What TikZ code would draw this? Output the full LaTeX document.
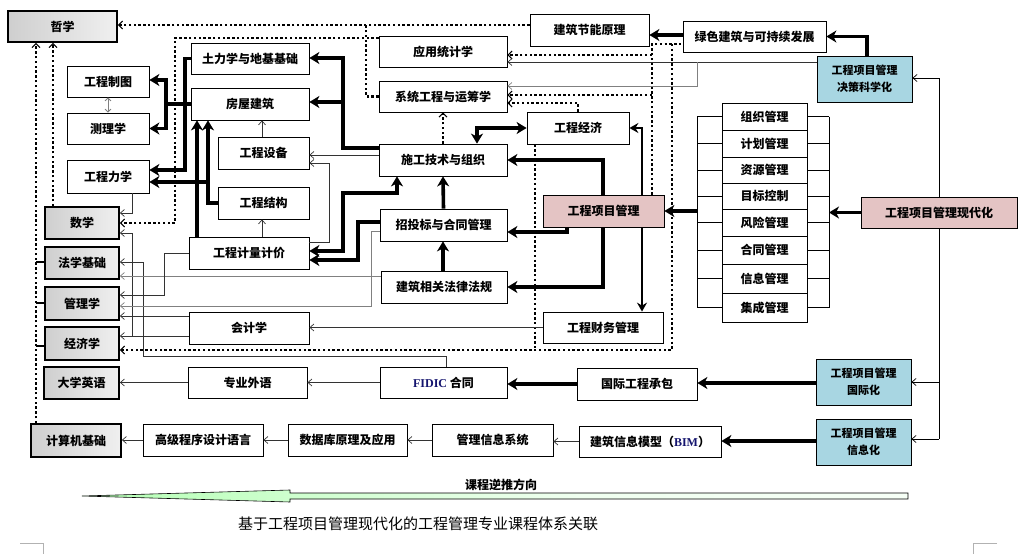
\documentclass[tikz,border=0pt]{standalone}
\usepackage{fontspec}
\setmainfont{Noto Sans CJK SC}
\newfontfamily\lserif{Liberation Serif}
\usetikzlibrary{arrows.meta}
\definecolor{pinkbg}{RGB}{228,196,196}
\definecolor{aquabg}{RGB}{168,214,226}
\definecolor{navy}{RGB}{20,20,110}
\pgfdeclarehorizontalshading{dirshade}{100bp}{color(0bp)=(black); color(22bp)=(green!45); color(24bp)=(green!30); color(55bp)=(green!6); color(100bp)=(white)}
\tikzset{
  box/.style={draw, line width=0.8pt, fill=white, inner sep=0pt, font=\bfseries\fontsize{12}{14}\selectfont},
  basebox/.style={box, line width=1.8pt, left color=gray!38, right color=gray!12},
  pinkbox/.style={box, fill=pinkbg},
  aquabox/.style={box, line width=1pt, fill=aquabg, align=center, font=\bfseries\fontsize{11}{17}\selectfont},
  thin/.style={draw=gray!40!black, line width=0.7pt, -{Straight Barb[length=4pt,width=7pt,line width=0.7pt]}},
  fat/.style={line width=3.6pt, -{Stealth[length=10pt,width=12pt,inset=3pt]}},
  mid/.style={line width=2pt, -{Stealth[length=9pt,width=10pt,inset=3pt]}},
  dots/.style={line width=2.4pt, dash pattern=on 2.4pt off 2.4pt},
  dotarr/.style={dots, -{Straight Barb[length=4pt,width=8pt,line width=1pt]}}
}
\begin{document}
\begin{tikzpicture}[x=1pt,y=-1pt]
\useasboundingbox (0,0) rectangle (1029,554);
% base courses
\node[basebox, minimum width=109, minimum height=31] (zx) at (62.5,26.5) {哲学};
\node[basebox, minimum width=74, minimum height=32] (sx) at (82,223) {数学};
\node[basebox, minimum width=74, minimum height=32] (fx) at (82,263) {法学基础};
\node[basebox, minimum width=74, minimum height=33] (gl) at (82,303.5) {管理学};
\node[basebox, minimum width=74, minimum height=33] (jj) at (82,343.5) {经济学};
\node[basebox, minimum width=75, minimum height=32] (yy) at (81.5,383) {大学英语};
\node[basebox, minimum width=90, minimum height=33] (jsj) at (76,440.5) {计算机基础};
% left column
\node[box, minimum width=82, minimum height=31] (zt) at (108,81.5) {工程制图};
\node[box, minimum width=82, minimum height=31] (cl) at (108,128.5) {测理学};
\node[box, minimum width=82, minimum height=33] (lx) at (108,176.5) {工程力学};
% second column
\node[box, minimum width=118, minimum height=31] (tl) at (250,58.5) {土力学与地基基础};
\node[box, minimum width=118, minimum height=32] (fw) at (250,104) {房屋建筑};
\node[box, minimum width=91, minimum height=32] (sb) at (263.5,153) {工程设备};
\node[box, minimum width=91, minimum height=32] (jg) at (263.5,203) {工程结构};
\node[box, minimum width=120, minimum height=32] (jl) at (249,253) {工程计量计价};
\node[box, minimum width=120, minimum height=32] (kj) at (249,328) {会计学};
\node[box, minimum width=119, minimum height=31] (wy) at (247.5,382.5) {专业外语};
\node[box, minimum width=120, minimum height=32] (gj) at (203,440) {高级程序设计语言};
% third column
\node[box, minimum width=128, minimum height=31] (tj) at (443,51.5) {应用统计学};
\node[box, minimum width=128, minimum height=31] (xt) at (443,96.5) {系统工程与运筹学};
\node[box, minimum width=128, minimum height=32] (sg) at (443,160) {施工技术与组织};
\node[box, minimum width=127, minimum height=32] (zb) at (443.5,225) {招投标与合同管理};
\node[box, minimum width=126, minimum height=32] (fg) at (444,287) {建筑相关法律法规};
\node[box, minimum width=127, minimum height=31] (fidic) at (443.5,382.5) {{\lserif\color{navy}FIDIC} 合同};
\node[box, minimum width=119, minimum height=32] (sj) at (347.5,440) {数据库原理及应用};
\node[box, minimum width=121, minimum height=32] (mis) at (492.5,440) {管理信息系统};
% fourth column
\node[box, minimum width=119, minimum height=32] (jn) at (589.5,30) {建筑节能原理};
\node[box, minimum width=102, minimum height=32] (jjx) at (578,128) {工程经济};
\node[pinkbox, minimum width=121, minimum height=32] (xm) at (603.5,211) {工程项目管理};
\node[box, minimum width=120, minimum height=31] (cw) at (603,327.5) {工程财务管理};
\node[box, minimum width=120, minimum height=32] (gc) at (637,384) {国际工程承包};
\node[box, minimum width=142, minimum height=31] (bim) at (650,441.5) {建筑信息模型（{\lserif\color{navy}BIM}）};
% right side
\node[box, minimum width=143, minimum height=31] (lv) at (754.5,36.5) {绿色建筑与可持续发展};
\node[aquabox, minimum width=95, minimum height=46] (jc) at (864.5,79) {工程项目管理\\决策科学化};
\node[box, minimum width=85, minimum height=27] (m1) at (764.5,116.5) {组织管理};
\node[box, minimum width=85, minimum height=27] (m2) at (764.5,143.5) {计划管理};
\node[box, minimum width=85, minimum height=26] (m3) at (764.5,170) {资源管理};
\node[box, minimum width=85, minimum height=26] (m4) at (764.5,196) {目标控制};
\node[box, minimum width=85, minimum height=27] (m5) at (764.5,222.5) {风险管理};
\node[box, minimum width=85, minimum height=28] (m6) at (764.5,250) {合同管理};
\node[box, minimum width=85, minimum height=29] (m7) at (764.5,278.5) {信息管理};
\node[box, minimum width=85, minimum height=29] (m8) at (764.5,307.5) {集成管理};
\node[pinkbox, minimum width=156, minimum height=31] (xd) at (939,212.5) {工程项目管理现代化};
\node[aquabox, minimum width=95, minimum height=46] (gjh) at (863.5,382) {工程项目管理\\国际化};
\node[aquabox, minimum width=95, minimum height=46] (xxh) at (863.5,442) {工程项目管理\\信息化};
% bracket round the management list
\draw[line width=0.7pt] (m1.west -| 697,0) -- (m8.west -| 697,0);
\draw[line width=0.7pt] (m1.east -| 829,0) -- (m8.east -| 829,0);
\draw[line width=0.7pt] (m1.west) -- ++(-25,0) (m2.west) -- ++(-25,0) (m3.west) -- ++(-25,0) (m4.west) -- ++(-25,0)
  (m5.west) -- ++(-25,0) (m6.west) -- ++(-25,0) (m7.west) -- ++(-25,0) (m8.west) -- ++(-25,0);
\draw[line width=0.7pt] (m1.east) -- ++(22,0) (m2.east) -- ++(22,0) (m3.east) -- ++(22,0) (m4.east) -- ++(22,0)
  (m5.east) -- ++(22,0) (m6.east) -- ++(22,0) (m7.east) -- ++(22,0) (m8.east) -- ++(22,0);
% dotted links
\draw[dotarr] (jn.west |- 0,25) -- (zx.east |- 0,25);
\draw[dots] (xt.west) -| (366,25);
\draw[dotarr] (tj.west |- 0,38) -- (175,38) -- (175,223) -- (sx.east |- 0,223);
\draw[dotarr] (jjx.north) |- ([yshift=-6.5pt]xt.east);
\draw[dotarr] (sg.north) -- (xt.south);
\draw[dots] (xm.north -| 652,0) -- (652,44) -- (lv.west |- 0,44);
\draw[dotarr] (652,55) -- (tj.east |- 0,55);
\draw[dotarr] (652,95) -- (xt.east |- 0,95);
\draw[dotarr] (672,44) -- (672,350) -- (jj.east |- 0,350);
\draw[dots] (jjx.south -| 535,0) -- (535,350);
\draw[dotarr] (sx.north -| 53,0) -- (zx.south -| 53,0);
\draw[dotarr] (jsj.north -| 36,0) -- (zx.south -| 36,0);
\draw[line width=2.6pt] (fx.west |- 0,262) -- (36,262) (gl.west |- 0,303) -- (36,303) (jj.west |- 0,346) -- (36,346);
% thin links
\draw[thin] (lx.south -| 132,0) |- (sx.east |- 0,213);
\draw[thin] (132,336) |- (sx.east |- 0,233);
\draw[thin] (kj.west |- 0,336) -- (jj.east |- 0,336);
\draw[thin] (kj.west |- 0,316) -- (gl.east |- 0,316);
\draw[thin] (fidic.north -| 446,0) |- (143,356) |- (fx.east |- 0,262);
\draw[thin, draw=gray] (fg.west |- 0,276) -- (fx.east |- 0,276);
\draw[thin] (jl.west) -| (164,295) -- (gl.east |- 0,295);
\draw[thin, draw=gray] (zb.west |- 0,231) -| (371,306) -- (gl.east |- 0,306);
\draw[thin] (cw.west) -- (kj.east |- cw.west);
\draw[thin] (sg.west |- 0,155) -- (sb.east |- 0,155);
\draw[thin] (jl.east |- 0,242) -| (329,163) -- (sb.east |- 0,163);
\draw[thin] (jl.north -| 262,0) -- (jg.south -| 262,0);
\draw[thin] (sb.north -| 262,0) -- (fw.south -| 262,0);
\draw[thin, draw=gray, {Straight Barb[length=3pt,width=6pt,line width=0.8pt]}-{Straight Barb[length=3pt,width=6pt,line width=0.8pt]}] (zt.south) -- (cl.north);
\draw[thin] (wy.west) -- (yy.east |- wy.west);
\draw[thin] (fidic.west) -- (wy.east);
\draw[thin] (gj.west) -- (jsj.east |- gj.west);
\draw[thin] (sj.west) -- (gj.east);
\draw[thin] (mis.west) -- (sj.east);
\draw[thin] (bim.west) -- (mis.east |- bim.west);
\draw[thin] (jc.west |- 0,62) -- (tj.east |- 0,62);
\draw[thin, draw=gray] (697,62) |- (xt.east |- 0,86);
\draw[thin, draw=black] (xd.north -| 939,0) |- (jc.east |- 0,78);
\draw[line width=0.7pt] (xd.south -| 939,0) -- (939,439);
\draw[thin, draw=black] (939,439) -- (xxh.east |- 0,439);
\draw[thin, draw=black] (939,382) -- (gjh.east |- 0,382);
% thick links
\draw[fat] (jc.north -| 867,0) |- (lv.east);
\draw[fat] (lv.west |- 0,35) -- (jn.east |- 0,35);
\draw[fat] (xd.west) -- (xd.west -| 829,0);
\draw[fat] (xm.east -| 697,0) -- (xm.east);
\draw[mid] (xm.north -| 642,0) |- (jjx.east);
\draw[fat] (xm.north -| 603,0) |- (sg.east);
\draw[fat] (xm.south -| 567,0) |- (zb.east |- 0,232);
\draw[fat] (xm.south -| 603,0) |- (fg.east);
\draw[mid] (xm.south -| 642,0) -- (cw.north -| 642,0);
\draw[fat, {Stealth[length=10pt,width=12pt,inset=3pt]}-{Stealth[length=10pt,width=12pt,inset=3pt]}] (jjx.west) -| (sg.north -| 477,0);
\draw[fat] (zb.north) -- (sg.south);
\draw[fat] (fg.north -| 443,0) -- (zb.south -| 443,0);
\draw[fat, {Stealth[length=10pt,width=12pt,inset=3pt]}-{Stealth[length=10pt,width=12pt,inset=3pt]}] (sg.south -| 397,0) |- (343,193) |- (jl.east |- 0,251);
\draw[fat] (zb.west |- 0,222) -| (358,260) -- (jl.east |- 0,260);
\draw[fat] (sg.west |- 0,148) -| (343,58) -- (tl.east |- 0,58);
\draw[fat] (343,102) -- (fw.east |- 0,102);
\draw[fat] (jl.north -| 197,0) -- (fw.south -| 197,0);
\draw[fat] (jg.west) -| (fw.south -| 208,0);
\draw[fat] (208,182) -- (lx.east |- 0,182);
\draw[fat] (tl.west) -| (185,170) -- (lx.east |- 0,170);
\draw[fat] (fw.west) -| (166,80) -- (zt.east |- 0,80);
\draw[fat] (166,104) |- (cl.east);
\draw[fat] (gc.west) -- (fidic.east |- gc.west);
\draw[fat] (gjh.west |- 0,383) -- (gc.east |- 0,383);
\draw[fat] (xxh.west |- 0,441) -- (bim.east |- 0,441);
% direction arrow and caption
\node[font=\bfseries\fontsize{12}{14}\selectfont, anchor=south] (dir) at (501,494) {课程逆推方向};
\shade[shading=dirshade] (82,496) -- (290,490) -- (290,493) -- (908,493) -- (908,499) -- (290,499) -- (290,502) -- cycle;
\draw[line width=0.6pt] (82,496) -- (290,490) -- (290,493) -- (908,493) -- (908,499) -- (290,499) -- (290,502) -- cycle;
\node[font=\fontsize{15}{18}\selectfont] (cap) at (418,524) {基于工程项目管理现代化的工程管理专业课程体系关联};
% page corner marks
\draw[gray!60, line width=0.6pt] (20,543) -- (43,543) -- (43,554);
\draw[gray!60, line width=0.6pt] (997,543) -- (973,543) -- (973,554);
\end{tikzpicture}
\end{document}
